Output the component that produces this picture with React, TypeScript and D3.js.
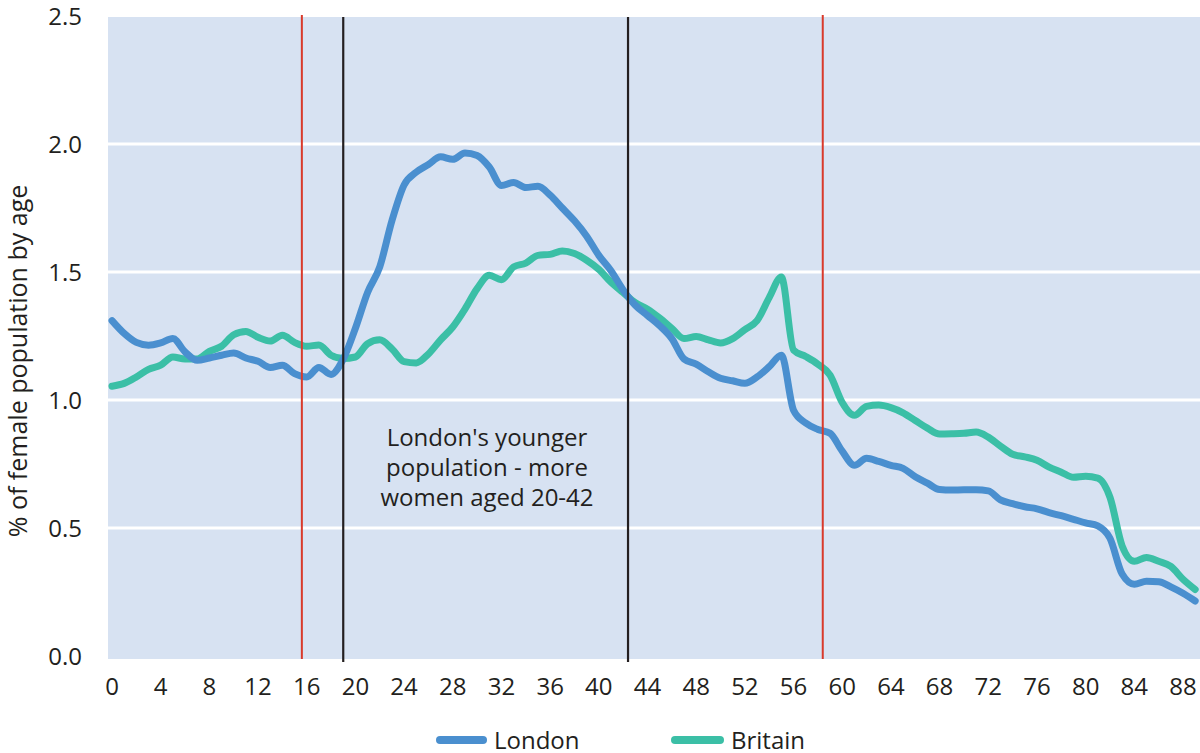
import React from "react";
import * as d3 from "d3";

const ages: number[] = d3.range(0, 90);

const londonValues: number[] = [
  1.31, 1.26, 1.225, 1.214, 1.223, 1.24, 1.188, 1.155, 1.164, 1.175,
  1.184, 1.164, 1.151, 1.127, 1.136, 1.103, 1.09, 1.127, 1.1, 1.16,
  1.28, 1.42, 1.52, 1.7, 1.84, 1.89, 1.92, 1.95, 1.94, 1.965,
  1.955, 1.91, 1.838, 1.85, 1.83, 1.835, 1.8, 1.75, 1.7, 1.64,
  1.565, 1.505, 1.43, 1.37, 1.33, 1.29, 1.24, 1.16, 1.14, 1.11,
  1.085, 1.075, 1.065, 1.09, 1.13, 1.175, 0.96, 0.91, 0.885, 0.87,
  0.8, 0.745, 0.772, 0.76, 0.745, 0.733, 0.7, 0.675, 0.65, 0.648,
  0.649, 0.649, 0.645, 0.61, 0.595, 0.583, 0.575, 0.56, 0.548, 0.534,
  0.52, 0.508, 0.46, 0.32, 0.28, 0.292, 0.29, 0.27, 0.245, 0.215,
];

const britainValues: number[] = [
  1.054, 1.065, 1.09, 1.12, 1.136, 1.168, 1.16, 1.16, 1.19, 1.21,
  1.255, 1.268, 1.245, 1.23, 1.253, 1.225, 1.21, 1.215, 1.175, 1.162,
  1.168, 1.22, 1.235, 1.2, 1.15, 1.145, 1.18, 1.235, 1.285, 1.355,
  1.435, 1.487, 1.47, 1.52, 1.535, 1.565, 1.569, 1.582, 1.572, 1.546,
  1.51, 1.46, 1.42, 1.38, 1.355, 1.32, 1.28, 1.24, 1.248, 1.235,
  1.223, 1.24, 1.275, 1.31, 1.4, 1.48, 1.195, 1.17, 1.14, 1.097,
  0.99, 0.94, 0.975, 0.98, 0.97, 0.95, 0.92, 0.89, 0.867, 0.868,
  0.87, 0.875, 0.855, 0.82, 0.788, 0.778, 0.765, 0.738, 0.718, 0.698,
  0.702, 0.695, 0.62, 0.43, 0.37, 0.385, 0.37, 0.35, 0.3, 0.26,
];

const xTicks: number[] = d3.range(0, 89, 4);
const yTicks: number[] = [0, 0.5, 1.0, 1.5, 2.0, 2.5];
const redMarkers: number[] = [15.6, 58.4];
const blackMarkers: number[] = [19.0, 42.4];
const annotationLines: string[] = ["London's younger", "population - more", "women aged 20-42"];

const FONT = "'Open Sans', 'Noto Sans', sans-serif";
const TEXT = "#231f20";
const LONDON = "#4a8fcf";
const BRITAIN = "#3bbfa6";

export default function App() {
  const width = 1200;
  const height = 753;
  const plotLeft = 108;
  const plotRight = 1200;
  const plotTop = 17;
  const plotBottom = 659;

  const x = d3.scaleLinear().domain([0, 88]).range([112, 1183]);
  const y = d3.scaleLinear().domain([0, 2.5]).range([656, 16]);

  const line = d3
    .line<number>()
    .x((_, i) => x(ages[i]))
    .y((d) => y(d))
    .curve(d3.curveMonotoneX);

  return (
    <svg
      width={width}
      height={height}
      style={{ position: "absolute", left: 0, top: 0, background: "#fff" }}
      fontFamily={FONT}
    >
      <rect x={plotLeft} y={plotTop} width={plotRight - plotLeft} height={plotBottom - plotTop} fill="#d7e2f2" />
      {yTicks.filter((t) => t > 0 && t < 2.5).map((t) => (
        <line key={"g" + t} x1={plotLeft} x2={plotRight} y1={y(t)} y2={y(t)} stroke="#fff" strokeWidth={3} />
      ))}
      {yTicks.map((t) => (
        <text key={"yt" + t} x={82} y={y(t)} dy="0.36em" textAnchor="end" fontSize={24} fill={TEXT}>
          {t.toFixed(1)}
        </text>
      ))}
      {xTicks.map((t) => (
        <text key={"xt" + t} x={x(t)} y={695} textAnchor="middle" fontSize={24} fill={TEXT}>
          {t}
        </text>
      ))}
      <text
        transform={`translate(27, 361) rotate(-90)`}
        textAnchor="middle"
        fontSize={25}
        fill={TEXT}
      >
        % of female population by age
      </text>
      <path d={line(britainValues) || ""} fill="none" stroke={BRITAIN} strokeWidth={7} strokeLinejoin="round" strokeLinecap="round" />
      <path d={line(londonValues) || ""} fill="none" stroke={LONDON} strokeWidth={7} strokeLinejoin="round" strokeLinecap="round" />
      {redMarkers.map((m) => (
        <line key={"r" + m} x1={x(m)} x2={x(m)} y1={15} y2={659} stroke="#d93a2b" strokeWidth={2} />
      ))}
      {blackMarkers.map((m) => (
        <line key={"b" + m} x1={x(m)} x2={x(m)} y1={17} y2={662} stroke="#231f20" strokeWidth={2.2} />
      ))}
      {annotationLines.map((s, i) => (
        <text key={"a" + i} x={487} y={446 + i * 30} textAnchor="middle" fontSize={24} fill={TEXT}>
          {s}
        </text>
      ))}
      <line x1={440} x2={483} y1={740} y2={740} stroke={LONDON} strokeWidth={8} strokeLinecap="round" />
      <text x={494} y={749} fontSize={24} fill={TEXT}>London</text>
      <line x1={675} x2={720} y1={740} y2={740} stroke={BRITAIN} strokeWidth={8} strokeLinecap="round" />
      <text x={731} y={749} fontSize={24} fill={TEXT}>Britain</text>
    </svg>
  );
}
